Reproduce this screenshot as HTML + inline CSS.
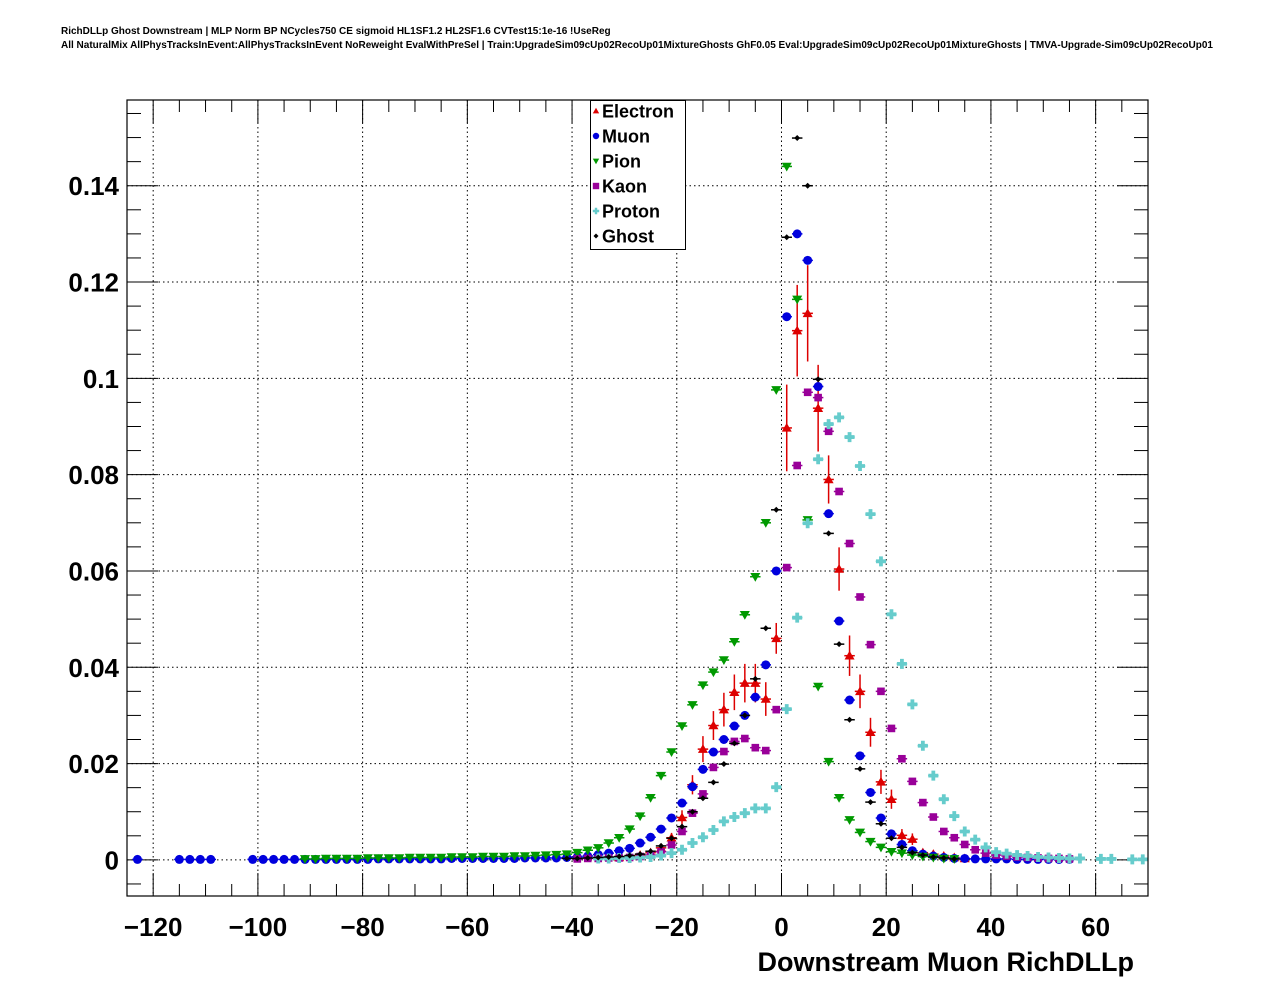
<!DOCTYPE html>
<html><head><meta charset="utf-8"><style>
html,body{margin:0;padding:0;background:#fff;}
svg text{font-family:"Liberation Sans",sans-serif;}
</style></head><body>
<svg id="chart" xmlns="http://www.w3.org/2000/svg" width="1276" height="996" viewBox="0 0 1276 996">
<rect x="0" y="0" width="1276" height="996" fill="#fff"/>
<text x="61" y="34" font-size="10" font-weight="bold">RichDLLp Ghost Downstream | MLP Norm BP NCycles750 CE sigmoid HL1SF1.2 HL2SF1.6 CVTest15:1e-16 !UseReg</text>
<text x="61" y="48" font-size="10" font-weight="bold">All NaturalMix AllPhysTracksInEvent:AllPhysTracksInEvent NoReweight EvalWithPreSel | Train:UpgradeSim09cUp02RecoUp01MixtureGhosts GhF0.05 Eval:UpgradeSim09cUp02RecoUp01MixtureGhosts | TMVA-Upgrade-Sim09cUp02RecoUp01</text>
<g id="grid"></g>
<g id="axes"></g>
<g id="marks"></g>
<rect x="127" y="100" width="1021" height="796" fill="none" stroke="#000" stroke-width="1.2"/>
<g>
<rect x="590.5" y="100.5" width="95" height="149" fill="#fff" stroke="#000" stroke-width="1"/>
<g id="legendEntries"></g>
</g>
<text x="1134" y="971" font-size="27" font-weight="bold" text-anchor="end">Downstream Muon RichDLLp</text>
</svg>
<script>
const xMin = -125, xMax = 70, yMin = -0.0075, yMax = 0.1578;
const xTicks = [-120, -100, -80, -60, -40, -20, 0, 20, 40, 60];
const xTickLabels = ["\u2212120", "\u2212100", "\u221280", "\u221260", "\u221240", "\u221220", "0", "20", "40", "60"];
const yTicks = [0, 0.02, 0.04, 0.06, 0.08, 0.1, 0.12, 0.14];
const yTickLabels = ["0", "0.02", "0.04", "0.06", "0.08", "0.1", "0.12", "0.14"];
const binWidth = 2;

const electronStart = -31;
const electronValues = [0.0005,0.0008,0.001,0.0015,0.0025,0.0046,0.0088,0.0156,0.023,0.0279,0.0312,0.0348,0.0367,0.0367,0.0334,0.046,0.0897,0.1099,0.1135,0.0938,0.079,0.0604,0.0424,0.035,0.0265,0.0162,0.0126,0.0051,0.0043,0.0015,0.0012,0.0008,0.0005,0.0003];
const electronErrors = [0.0003,0.0004,0.0005,0.0006,0.0008,0.001,0.0015,0.002,0.0027,0.003,0.0035,0.0037,0.004,0.004,0.0035,0.0032,0.009,0.0095,0.01,0.009,0.005,0.0045,0.0042,0.0035,0.003,0.0025,0.002,0.0013,0.0012,0.0007,0.0006,0.0005,0.0004,0.0003];

const muonStart = -123;
const muonValues = [0.0001,null,null,null,0.0001,0.0001,0.0001,0.0001,null,null,null,
0.0001,0.0001,0.0001,0.0001,0.0001,0.0001,0.0001,0.0001,0.0001,0.0001,0.0001,0.0001,0.0002,0.0002,0.0002,0.0002,0.0002,0.0002,0.0002,0.0003,0.0003,0.0003,0.0003,0.0003,0.0003,0.0003,0.0004,0.0004,0.0004,0.0004,
0.0005,0.0006,0.0008,0.0011,0.0014,0.0019,0.0024,0.0035,0.0047,0.0064,0.0087,0.0118,0.0152,0.0188,0.0224,0.025,0.0278,0.03,0.0338,0.0405,0.06,0.1128,0.13,0.1245,0.0983,0.0719,0.0496,0.0332,0.0216,0.014,0.0087,0.0054,0.0032,0.0019,0.0012,0.0008,0.0005,0.0003,0.0003,0.0002,0.0002,0.0002,0.0002,0.0001,0.0001,0.0001,0.0001,0.0001,0.0001];

const pionStart = -91;
const pionValues = [0.0002,0.0002,0.0003,0.0003,0.0003,0.0003,0.0004,0.0004,0.0004,0.0004,0.0005,0.0005,0.0005,0.0005,0.0006,0.0006,0.0006,0.0007,0.0007,0.0007,0.0008,0.0008,0.0009,0.001,0.0011,
0.0012,0.0015,0.002,0.0025,0.0035,0.0046,0.0064,0.0091,0.0129,0.0175,0.0224,0.0278,0.0322,0.0363,0.039,0.0415,0.0453,0.0509,0.0588,0.07,0.0976,0.144,0.1164,0.0706,0.036,0.0204,0.0129,0.0083,0.0057,0.0038,0.0026,0.0017,0.0014,0.001,0.0007,0.0005,0.0003,0.0002];

const kaonStart = -39;
const kaonValues = [0.0002,0.0003,0.0003,0.0004,0.0004,0.0005,0.0007,0.001,0.0017,0.0031,0.0059,0.0097,0.0137,0.0192,0.0225,0.0246,0.0252,0.0233,0.0227,0.0312,0.0607,0.0819,0.0971,0.096,0.089,0.0765,0.0657,0.0546,0.0447,0.035,0.0273,0.021,0.0163,0.0119,0.0089,0.0059,0.0046,0.0032,0.0021,0.0014,0.001,0.0008,0.0006,0.0005,0.0004,0.0003,0.0003,0.0002];

const protonStart = -35;
const protonValues = [0.0003,0.0003,0.0004,0.0004,0.0005,0.0006,0.0009,0.0014,0.0021,0.0035,0.0047,0.0062,0.008,0.0089,0.0097,0.0107,0.0107,0.0151,0.0313,0.0503,0.0699,0.0832,0.0905,0.0919,0.0878,0.0818,0.0718,0.062,0.051,0.0407,0.0323,0.0237,0.0175,0.0126,0.0091,0.0059,0.0042,0.0026,0.0016,0.0013,0.001,0.0008,0.0006,0.0005,0.0004,0.0003,0.0003,null,0.0002,0.0002,null,0.0001,0.0001];

const ghostStart = -41;
const ghostValues = [0.0003,0.0003,0.0004,0.0005,0.0006,0.0007,0.0009,0.0012,0.0018,0.0029,0.0045,0.0069,0.01,0.0128,0.0161,0.0199,0.0242,0.03,0.0376,0.0481,0.0727,0.1293,0.1499,0.14,0.0998,0.0678,0.0448,0.0291,0.0189,0.012,0.0075,0.0045,0.0026,0.0015,0.001,0.0006,0.0004,0.0002];

const NS = "http://www.w3.org/2000/svg";
const L = 127, R = 1148, T = 100, B = 896;
function xs(v){ return L + (v - xMin) * (R - L) / (xMax - xMin); }
function ys(v){ return B - (v - yMin) * (B - T) / (yMax - yMin); }
function mk(tag, attrs, parent){ const e = document.createElementNS(NS, tag); for (const k in attrs) e.setAttribute(k, attrs[k]); parent.appendChild(e); return e; }

const grid = document.getElementById('grid');
const axes = document.getElementById('axes');
xTicks.forEach((t, i) => {
  const x = xs(t);
  const g = mk('line', {x1:x, x2:x, y1:T, y2:B, stroke:'#000', 'stroke-width':1, 'stroke-dasharray':'1.5,3'}, grid);
  
  
  const tb = mk('line', {x1:x, x2:x, y1:B, y2:B-23, stroke:'#000', 'stroke-width':1}, axes);
  
  
  mk('line', {x1:x, x2:x, y1:T, y2:T+23, stroke:'#000', 'stroke-width':1}, axes);
  const lb = mk('text', {x:x, y:936, 'font-size':26, 'font-weight':'bold', 'text-anchor':'middle'}, axes);
  lb.textContent = xTickLabels[i];
  
  
});
for (let v = -125; v <= 70; v += 5) {
  if (v % 20 === 0) continue;
  const x = xs(v);
  mk('line', {x1:x, x2:x, y1:B, y2:B-12, stroke:'#000', 'stroke-width':1}, axes);
  mk('line', {x1:x, x2:x, y1:T, y2:T+12, stroke:'#000', 'stroke-width':1}, axes);
}
yTicks.forEach((t, i) => {
  const y = ys(t);
  const g = mk('line', {x1:L, x2:R, y1:y, y2:y, stroke:'#000', 'stroke-width':1, 'stroke-dasharray':'1.5,3'}, grid);
  
  
  mk('line', {x1:L, x2:L+31, y1:y, y2:y, stroke:'#000', 'stroke-width':1}, axes);
  mk('line', {x1:R, x2:R-31, y1:y, y2:y, stroke:'#000', 'stroke-width':1}, axes);
  const lb = mk('text', {x:119, y:y+9.5, 'font-size':26, 'font-weight':'bold', 'text-anchor':'end'}, axes);
  lb.textContent = yTickLabels[i];
  
  
});
for (let v = -0.005; v <= 0.156; v += 0.005) {
  const r = Math.round(v * 1000);
  if (r % 20 === 0) continue;
  const y = ys(v);
  mk('line', {x1:L, x2:L+14, y1:y, y2:y, stroke:'#000', 'stroke-width':1}, axes);
  mk('line', {x1:R, x2:R-14, y1:y, y2:y, stroke:'#000', 'stroke-width':1}, axes);
}

function marker(type, color, x, y, s, parent){
  let e;
  if (type === 'tri') e = mk('polygon', {points:`${x},${y-s} ${x-s},${y+s*0.75} ${x+s},${y+s*0.75}`, fill:color}, parent);
  else if (type === 'tridown') e = mk('polygon', {points:`${x},${y+s} ${x-s},${y-s*0.75} ${x+s},${y-s*0.75}`, fill:color}, parent);
  else if (type === 'circle') e = mk('circle', {cx:x, cy:y, r:s, fill:color}, parent);
  else if (type === 'square') e = mk('rect', {x:x-s, y:y-s, width:2*s, height:2*s, fill:color}, parent);
  else if (type === 'cross') e = mk('path', {d:`M${x-s},${y-s*0.38}h${s*0.62}v${-s*0.62}h${s*0.76}v${s*0.62}h${s*0.62}v${s*0.76}h${-s*0.62}v${s*0.62}h${-s*0.76}v${-s*0.62}h${-s*0.62}z`, fill:color}, parent);
  else e = mk('polygon', {points:`${x},${y-s} ${x+s},${y} ${x},${y+s} ${x-s},${y}`, fill:color}, parent);
  return e;
}

const series = [
  {name:'Electron', color:'#dd0000', type:'tri', size:5, start:electronStart, values:electronValues, errors:electronErrors},
  {name:'Muon', color:'#0000dd', type:'circle', size:4.5, start:muonStart, values:muonValues},
  {name:'Pion', color:'#009900', type:'tridown', size:5, start:pionStart, values:pionValues},
  {name:'Kaon', color:'#990099', type:'square', size:3.8, start:kaonStart, values:kaonValues},
  {name:'Proton', color:'#66cccc', type:'cross', size:5, start:protonStart, values:protonValues},
  {name:'Ghost', color:'#000000', type:'diamond', size:3, start:ghostStart, values:ghostValues}
];
const marks = document.getElementById('marks');
series.forEach(s => {
  const g = mk('g', {}, marks);
  
  
  s.values.forEach((v, i) => {
    if (v === null) return;
    const c = s.start + binWidth * i;
    const x = xs(c), y = ys(v);
    const hw = (xs(c + binWidth/2) - xs(c - binWidth/2)) / 2;
    mk('line', {x1:x-hw, x2:x+hw, y1:y, y2:y, stroke:s.color, 'stroke-width':1.5}, g);
    if (s.errors) {
      const e = s.errors[i];
      mk('line', {x1:x, x2:x, y1:ys(v+e), y2:ys(v-e), stroke:s.color, 'stroke-width':1.5}, g);
    }
    const m = marker(s.type, s.color, x, y, s.size, g);
    
    
  });
});

const le = document.getElementById('legendEntries');
series.forEach((s, i) => {
  const y = 111 + 25 * i;
  const g = mk('g', {}, le);
  
  
  marker(s.type, s.color, 596, y, s.type === 'diamond' ? 2.5 : 3.2, g);
  const t = mk('text', {x:602, y:y+6.5, 'font-size':18, 'font-weight':'bold'}, g);
  t.textContent = s.name;
});
</script>
</body></html>
